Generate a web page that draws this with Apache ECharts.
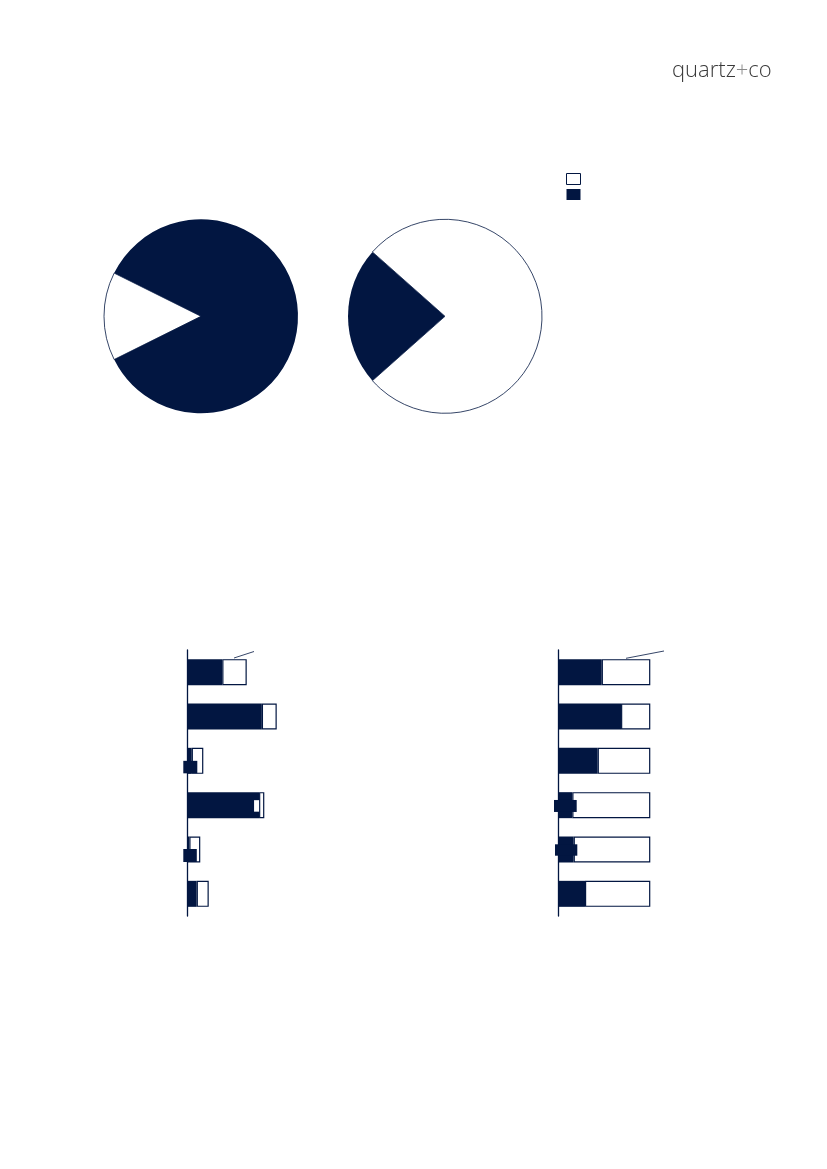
<!DOCTYPE html>
<html>
<head>
<meta charset="utf-8">
<title>quartz+co</title>
<script src="https://cdn.jsdelivr.net/npm/echarts@6/dist/echarts.min.js"></script>
<style>
    html,body{margin:0;padding:0;background:#fff;}
    #main{width:827px;height:1169px;}
</style>
</head>
<body>
<div id="main"></div>
<script>
//pie data (percent)
let pieNames = ['open','filled']
let pieLeft = [14.7, 85.3]   //white, navy
let pieRight = [76.9, 23.1]  //white, navy

//bar rows, top to bottom
let rowNames = ['1','2','3','4','5','6']
let leftNavy = [38, 81, 4.8, 78, 2.2, 10.2]
let leftWhite = [26.6, 16.2, 12.6, 5.7, 11.9, 13.1]
let rightNavy = [47.2, 68.2, 42.8, 15.2, 16.7, 29]
let rightWhite = [52.8, 31.8, 57.2, 84.8, 83.3, 71]

let navy = '#021641'

//leftover label boxes seen on the small bars: [row, dx, dy, w, h, color]
let leftNavyBoxes = [[2, -4, 13, 14, 12.5, navy], [4, -4, 12.5, 13.5, 13, navy]]
let leftWhiteBoxes = [[3, -5, 8, 5, 11.5, '#fff']]
let rightNavyBoxes = [[3, -4.3, 7.8, 22.7, 12, navy], [4, -3.3, 7.8, 22.3, 11.4, navy]]

let myChart = echarts.init(document.getElementById('main'), null, {renderer:'canvas'})

//build bar data with the label boxes attached
function barData(values, boxes){
    return values.map((v, i) => {
        let item = {value: v}
        boxes.forEach(b => {
            if(b[0] === i){
                item.label = {
                    show: true,
                    position: [b[1], b[2]],
                    align: 'left',
                    verticalAlign: 'top',
                    formatter: '{k| }',
                    rich: {k: {width: b[3], height: b[4], backgroundColor: b[5], fontSize: 1, lineHeight: b[4]}}
                }
            }
        })
        return item
    })
}

function pieSeries(center, values, whiteFirst){
    let white = {color:'#fff', borderColor: navy, borderWidth: 0.8}
    let dark = {color: navy, borderWidth: 0}
    let data = [
        {name: pieNames[0], value: values[0], itemStyle: white},
        {name: pieNames[1], value: values[1], itemStyle: dark}
    ]
    let total = values[0] + values[1]
    let first = whiteFirst ? values[0] : values[1]
    if(!whiteFirst) data.reverse()
    return {
        type: 'pie',
        center: center,
        radius: 97,
        startAngle: 180 + first / total * 180,
        clockwise: true,
        silent: true,
        label: {show: false},
        labelLine: {show: false},
        emphasis: {disabled: true},
        data: data
    }
}

let yAxisBase = {
    type: 'category',
    data: rowNames,
    inverse: true,
    axisLine: {show: true, lineStyle: {color: navy, width: 1.3}},
    axisTick: {show: false},
    axisLabel: {show: false},
    splitLine: {show: false}
}
let xAxisBase = {
    type: 'value',
    min: 0,
    max: 100,
    show: false,
    splitLine: {show: false}
}

let option = {
    animation: false,
    legend: {
        left: 566,
        top: 173,
        padding: 0,
        orient: 'vertical',
        itemWidth: 14,
        itemHeight: 11,
        itemGap: 4,
        icon: 'rect',
        formatter: () => '',
        selectedMode: false,
        data: [
            {name: pieNames[0], itemStyle: {color:'#fff', borderColor: navy, borderWidth: 1}},
            {name: pieNames[1], itemStyle: {color: navy}}
        ]
    },
    grid: [
        {left: 187.3, top: 650, width: 92, height: 266, containLabel: false},
        {left: 558.3, top: 650, width: 92, height: 266, containLabel: false}
    ],
    xAxis: [
        Object.assign({gridIndex: 0}, xAxisBase),
        Object.assign({gridIndex: 1}, xAxisBase)
    ],
    yAxis: [
        Object.assign({gridIndex: 0}, yAxisBase),
        Object.assign({gridIndex: 1}, yAxisBase)
    ],
    series: [
        pieSeries([201, 316.3], pieLeft, true),
        pieSeries([445, 316.3], pieRight, false),
        {
            type: 'bar', xAxisIndex: 0, yAxisIndex: 0, stack: 'l', barWidth: 26,
            itemStyle: {color: navy}, silent: true,
            data: barData(leftNavy, leftNavyBoxes)
        },
        {
            type: 'bar', xAxisIndex: 0, yAxisIndex: 0, stack: 'l', barWidth: 26,
            itemStyle: {color: '#fff', borderColor: navy, borderWidth: 1.2}, silent: true,
            data: barData(leftWhite, leftWhiteBoxes)
        },
        {
            type: 'bar', xAxisIndex: 1, yAxisIndex: 1, stack: 'r', barWidth: 26,
            itemStyle: {color: navy}, silent: true,
            data: barData(rightNavy, rightNavyBoxes)
        },
        {
            type: 'bar', xAxisIndex: 1, yAxisIndex: 1, stack: 'r', barWidth: 26,
            itemStyle: {color: '#fff', borderColor: navy, borderWidth: 1.2}, silent: true,
            data: barData(rightWhite, [])
        }
    ],
    graphic: [
        //logo
        {
            type: 'text', left: 672, top: 60,
            style: {
                text: '{a|quartz}{b|+}{a|co}',
                rich: {
                    a: {fontFamily: 'Open Sans', fontWeight: 300, fontSize: 22, fill: '#3a3a3a'},
                    b: {fontFamily: 'Open Sans', fontWeight: 300, fontSize: 22, fill: '#8a8a8a'}
                }
            }
        },
        //small leader lines above the bars
        {type: 'line', shape: {x1: 234, y1: 658, x2: 254, y2: 651.5}, style: {stroke: navy, lineWidth: 0.8}},
        {type: 'line', shape: {x1: 626, y1: 658.3, x2: 664, y2: 651}, style: {stroke: navy, lineWidth: 0.8}}
    ]
}
myChart.setOption(option)
</script>
</body>
</html>
